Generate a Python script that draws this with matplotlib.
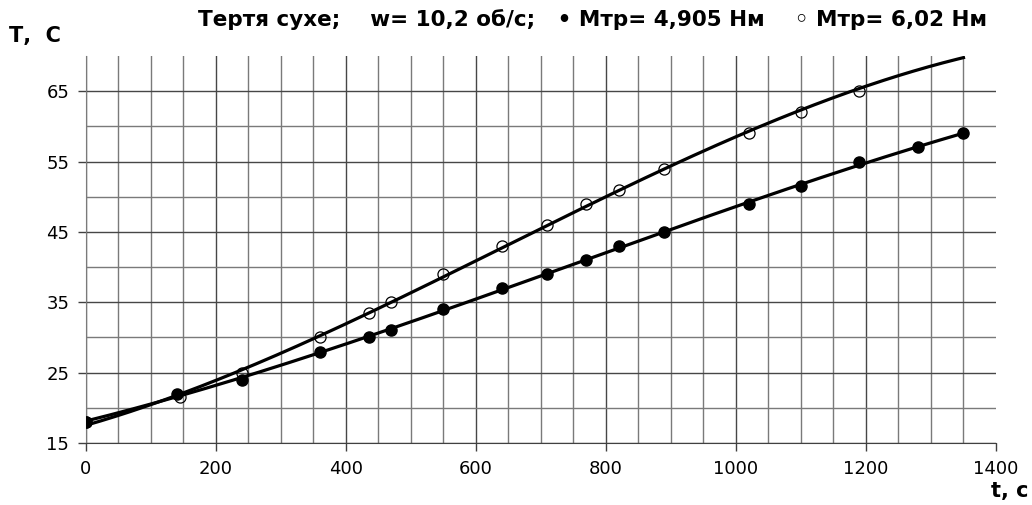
import matplotlib.pyplot as plt
import numpy as np

plt.rcParams['font.family'] = ['DejaVu Sans']

# M = 4,905 Nm (filled markers)
t_dry1 = [0, 140, 240, 360, 435, 470, 550, 640, 710, 770, 820, 890, 1020, 1100, 1190, 1280, 1350]
T_dry1 = [18, 22, 24, 28, 30, 31, 34, 37, 39, 41, 43, 45, 49, 51.5, 55, 57, 59]

# M = 6,02 Nm (open markers)
t_dry2 = [0, 145, 240, 360, 435, 470, 550, 640, 710, 770, 820, 890, 1020, 1100, 1190]
T_dry2 = [18, 21.5, 25, 30, 33.5, 35, 39, 43, 46, 49, 51, 54, 59, 62, 65]
# where the trend line of series 2 runs out of the plot
t_end2 = [1350]
T_end2 = [70.2]

title = 'Тертя сухе;    w= 10,2 об/с;   • Мтр= 4,905 Нм    ◦ Мтр= 6,02 Нм'

fig = plt.figure(figsize=(10.32, 5.05), dpi=100)
ax = fig.add_axes([0.0833, 0.1228, 0.8818, 0.7663])

ax.set_xlim(0, 1400)
ax.set_ylim(15, 70)
ax.set_xticks(np.arange(0, 1401, 200))
ax.set_xticks(np.arange(50, 1400, 50), minor=True)
ax.set_yticks(np.arange(15, 66, 10))
ax.set_yticks(np.arange(20, 66, 5), minor=True)

ax.grid(True, which='major', color='#474747', lw=1.0)
ax.grid(True, which='minor', color='#7a7a7a', lw=1.0)
ax.xaxis.get_gridlines()[-1].set_visible(False)
ax.set_axisbelow(True)
for s in ['top', 'right']:
    ax.spines[s].set_visible(False)
ax.spines['bottom'].set_color('#404040')
ax.spines['left'].set_color('#7a7a7a')

ax.tick_params(which='major', length=6, width=1, color='#404040', labelsize=13, pad=6)
ax.tick_params(which='minor', length=0)

# trend curves
tt1 = np.linspace(0, max(t_dry1), 300)
ax.plot(tt1, np.polyval(np.polyfit(t_dry1, T_dry1, 3), tt1), color='black', lw=2.3, zorder=3)
tl2 = t_dry2 + t_end2
Tl2 = T_dry2 + T_end2
tt2 = np.linspace(0, max(tl2), 300)
ax.plot(tt2, np.polyval(np.polyfit(tl2, Tl2, 3), tt2), color='black', lw=2.3, zorder=3)

ax.plot(t_dry1, T_dry1, 'o', ms=8, color='black', zorder=4)
ax.plot(t_dry2, T_dry2, 'o', ms=8, mfc='none', mec='black', mew=0.9, zorder=4)

fig.text(0.192, 0.962, title, fontsize=15.5, fontweight='bold', ha='left', va='center')
fig.text(0.009, 0.928, 'Т,  С', fontsize=15, fontweight='bold', ha='left', va='center')
fig.text(0.997, 0.027, 't, c', fontsize=15, fontweight='bold', ha='right', va='center')

fig.savefig('out.png', dpi=100)
